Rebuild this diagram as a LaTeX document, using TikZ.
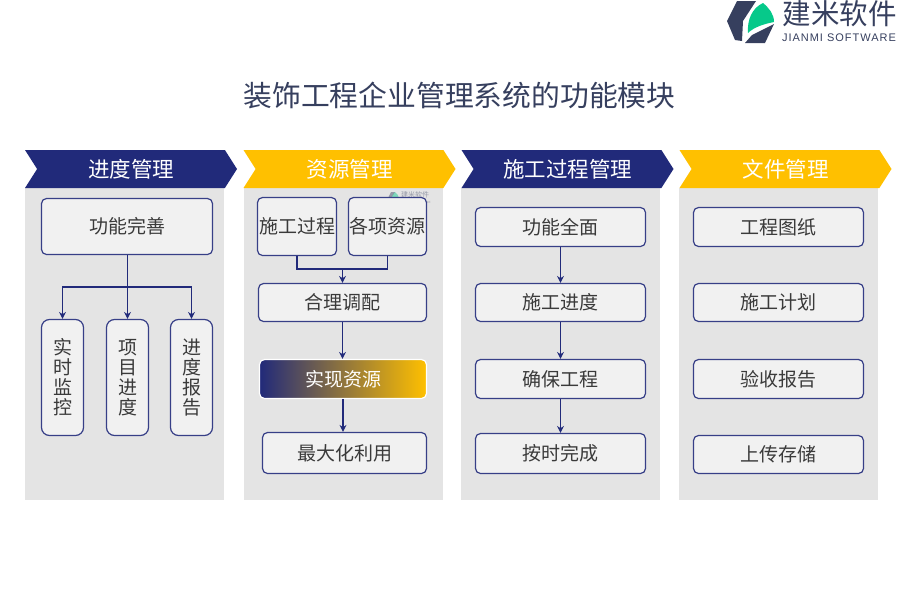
\documentclass[tikz,border=0pt]{standalone}
\usepackage{fontspec}
\setmainfont{Noto Sans CJK SC}
\newfontfamily\logofont[LetterSpace=9]{Liberation Sans}
\usetikzlibrary{arrows.meta,shapes.symbols}
\definecolor{navy}{HTML}{212A7A}
\definecolor{gold}{HTML}{FFC000}
\definecolor{panel}{HTML}{E4E4E4}
\definecolor{boxfill}{HTML}{F1F1F1}
\definecolor{slate}{HTML}{363F5E}
\definecolor{leaf}{HTML}{06C98A}
\definecolor{ink}{HTML}{3A3A3A}
\tikzset{
  panelbox/.style={fill=panel,draw=none,minimum width=199pt,minimum height=312pt,inner sep=0pt,anchor=north west},
  headbox/.style={signal,signal to=east,signal from=west,signal pointer angle=115,draw=none,text=white,inner sep=0pt,
    minimum width=212pt,minimum height=38pt,font=\fontsize{21.5}{24}\selectfont},
  itembox/.style={draw=navy!90,fill=boxfill,rounded corners=5pt,line width=1.2pt,inner sep=0pt,text=ink,
    align=center,font=\fontsize{19}{20}\selectfont},
  widebox/.style={itembox,minimum width=170pt,minimum height=39pt},
  tallbox/.style={itembox,rounded corners=8pt,minimum width=42pt,minimum height=116pt},
  link/.style={draw=navy,line width=1.3pt,-{Stealth[length=7pt,width=7pt]}},
  joinline/.style={draw=navy,line width=1.3pt}
}
\begin{document}
\begin{tikzpicture}[x=1pt,y=-1pt]
  \useasboundingbox (0,0) rectangle (900,600);
  % logo
  \fill[slate] (737,1) -- (756,1) -- (743,21) -- (742,41) -- (735,40) -- (727,21) -- cycle;
  \fill[slate] (745,43) -- (765,43) -- (774,24) -- (752,35) -- cycle;
  \fill[leaf] (748,33) .. controls (747,20) and (752,8) .. (763,3) .. controls (769,8) and (774,14) .. (774,22) .. controls (764,24) and (754,27) .. (748,33) -- cycle;
  \node[text=slate,font=\fontsize{28.5}{30}\selectfont] (logotext) at (839.5,14) {建米软件};
  \node[text=slate,font=\logofont\fontsize{11}{12}\selectfont] (logosub) at (839,38) {JIANMI SOFTWARE};
  % title
  \node[text=slate,font=\fontsize{28.8}{32}\selectfont] (title) at (459.5,95) {装饰工程企业管理系统的功能模块};
  % panels
  \node[panelbox] (panelA) at (25,188) {};
  \node[panelbox] (panelB) at (244,188) {};
  \node[panelbox] (panelC) at (461,188) {};
  \node[panelbox] (panelD) at (679,188) {};
  % heads
  \node[headbox,fill=navy] (headA) at (131,169) {进度管理};
  \node[headbox,fill=gold] (headB) at (349.5,169) {资源管理};
  \node[headbox,fill=navy] (headC) at (567.5,169) {施工过程管理};
  \node[headbox,fill=gold] (headD) at (785.5,169) {文件管理};
  % watermark
  \begin{scope}[opacity=.45]
    \fill[slate] (391,192) -- (395,192) -- (391,198) -- (391,204) -- (388,198) -- cycle;
    \fill[leaf] (391,203) .. controls (391,197) and (393,194) .. (395,192) .. controls (397,194) and (399,196) .. (399,198) .. controls (396,199) and (393,200) .. (391,203) -- cycle;
    \node[text=slate,font=\fontsize{7}{8}\selectfont] (markA) at (415,195) {建米软件};
    \node[text=slate,font=\logofont\fontsize{3}{4}\selectfont] (markB) at (415,202) {JIANMI SOFTWARE};
  \end{scope}
  % first column
  \node[itembox,minimum width=171pt,minimum height=56pt] (wanshan) at (127,226.5) {功能完善};
  \node[tallbox] (jiankong) at (62.5,377.5) {实\\时\\监\\控};
  \node[tallbox] (xiangmu) at (127.5,377.5) {项\\目\\进\\度};
  \node[tallbox] (baogao) at (191.5,377.5) {进\\度\\报\\告};
  \coordinate (forkA) at (127.5,287);
  \draw[link] (wanshan.south -| xiangmu.north) -- (xiangmu.north);
  \draw[link] (forkA) -| (jiankong.north);
  \draw[link] (forkA) -| (baogao.north);
  % second column
  \node[itembox,minimum width=79pt,minimum height=58pt] (guocheng) at (297,226.5) {施工过程};
  \node[itembox,minimum width=78pt,minimum height=58pt] (ziyuan) at (387.5,226.5) {各项资源};
  \node[itembox,minimum width=168pt,minimum height=38pt] (tiaopei) at (342.5,302.5) {合理调配};
  \node[itembox,minimum width=167pt,minimum height=39pt,draw=white,left color=navy,right color=gold,text=white] (shixian) at (343,379) {实现资源};
  \node[itembox,minimum width=164pt,minimum height=41pt] (liyong) at (344.5,453) {最大化利用};
  \coordinate (forkB) at (342.5,269);
  \draw[joinline] (guocheng.south) |- (forkB);
  \draw[joinline] (ziyuan.south) |- (forkB);
  \draw[link] (forkB) -- (tiaopei.north);
  \draw[link] (tiaopei.south) -- (tiaopei.south |- shixian.north);
  \draw[link] (shixian.south) -- (shixian.south |- liyong.north);
  % third column
  \node[widebox] (quanmian) at (560.5,227) {功能全面};
  \node[widebox,minimum height=38pt] (jindu) at (560.5,302.5) {施工进度};
  \node[widebox] (gongcheng) at (560.5,379) {确保工程};
  \node[widebox,minimum height=40pt] (wancheng) at (560.5,453.5) {按时完成};
  \draw[link] (quanmian) -- (jindu);
  \draw[link] (jindu) -- (gongcheng);
  \draw[link] (gongcheng) -- (wancheng);
  % fourth column
  \node[widebox] (tuzhi) at (778.5,227) {工程图纸};
  \node[widebox,minimum height=38pt] (jihua) at (778.5,302.5) {施工计划};
  \node[widebox] (yanshou) at (778.5,379) {验收报告};
  \node[widebox,minimum height=38pt] (cunchu) at (778.5,454.5) {上传存储};
\end{tikzpicture}
\end{document}
